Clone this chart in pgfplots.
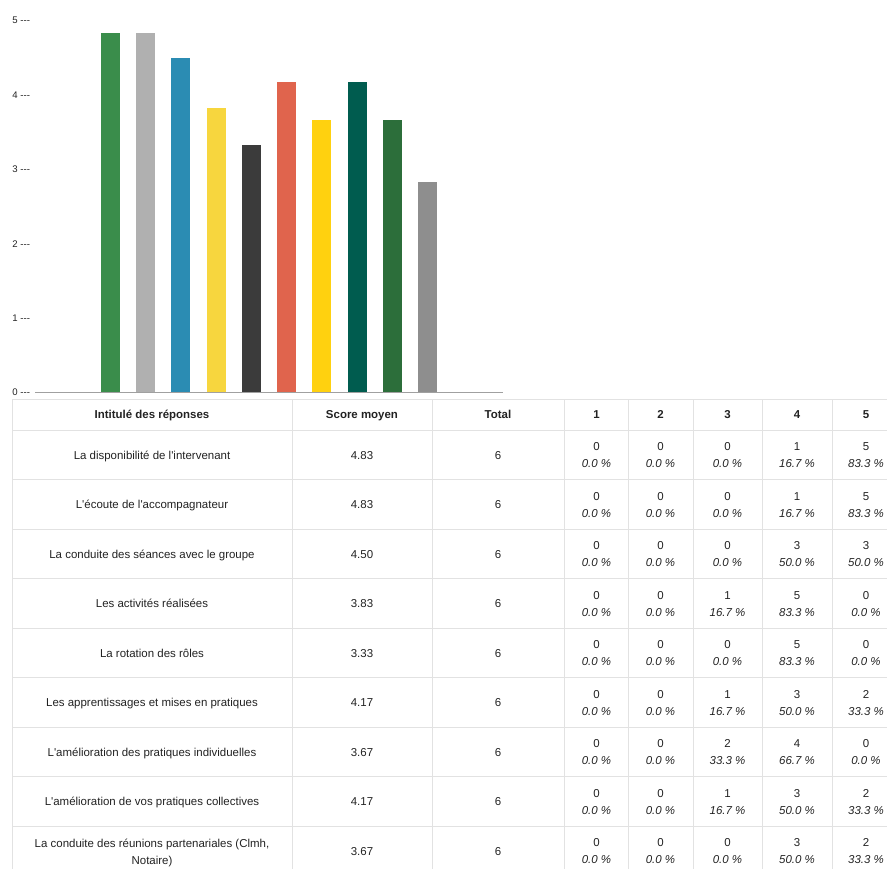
\documentclass[border=0pt]{standalone}
\usepackage{fontspec}
\usepackage{pgfplots}
\pgfplotsset{compat=1.18}
\newfontfamily\af{Liberation Sans}
\definecolor{c1}{HTML}{3A8D4B}
\definecolor{c2}{HTML}{B0B0B0}
\definecolor{c3}{HTML}{2B8CB3}
\definecolor{c4}{HTML}{F7D63E}
\definecolor{c5}{HTML}{3B3B3B}
\definecolor{c6}{HTML}{E0644D}
\definecolor{c7}{HTML}{FFD10F}
\definecolor{c8}{HTML}{005C4F}
\definecolor{c9}{HTML}{2C6E3A}
\definecolor{c10}{HTML}{8E8E8E}
\definecolor{axisgray}{HTML}{A0A0A0}
\definecolor{gridc}{HTML}{E2E2E2}
\definecolor{txt}{HTML}{222222}
\begin{document}
\begin{tikzpicture}
\useasboundingbox (0,0) rectangle (665.25pt,-651pt);
\begin{axis}[
  at={(26.25pt,-294.225pt)}, anchor=south west,
  scale only axis, width=351pt, height=278.7pt,
  xmin=-1.144, xmax=12.144, ymin=0, ymax=5,
  axis x line=bottom, axis y line=left,
  x axis line style={-, draw=axisgray, line width=1pt},
  y axis line style={draw=none},
  xtick=\empty, ytick={0,1,2,3,4,5},
  yticklabels={0 ---,1 ---,2 ---,3 ---,4 ---,5 ---},
  major tick length=0pt,
  yticklabel style={font=\af\fontsize{7.2}{8}\selectfont, text=txt, anchor=east, inner sep=0pt, xshift=-3.5pt},
  mybar/.style={ybar, bar width=14.25pt, bar shift=0pt, draw=none, fill=#1},
  clip=false,
]
\addplot[mybar=c1] coordinates {(1,4.83)};
\addplot[mybar=c2] coordinates {(2,4.83)};
\addplot[mybar=c3] coordinates {(3,4.50)};
\addplot[mybar=c4] coordinates {(4,3.83)};
\addplot[mybar=c5] coordinates {(5,3.33)};
\addplot[mybar=c6] coordinates {(6,4.17)};
\addplot[mybar=c7] coordinates {(7,3.67)};
\addplot[mybar=c8] coordinates {(8,4.17)};
\addplot[mybar=c9] coordinates {(9,3.67)};
\addplot[mybar=c10] coordinates {(10,2.83)};
\end{axis}
\begin{scope}[x=0.75pt, y=-0.75pt, every node/.style={font=\af\fontsize{8.6}{12.75}\selectfont, text=txt, inner sep=0pt}]
  \draw[gridc, line width=0.75pt] (12,399.5) -- (900,399.5);
  \foreach \yy in {430.5,479.5,529.5,578.5,628.5,677.5,727.5,776.5,826.5,875.5}
    \draw[gridc, line width=0.75pt] (12,\yy) -- (900,\yy);
  \foreach \xx in {12.5,292.5,432.5,564.5,628.5,693.5,762.5,832.5}
    \draw[gridc, line width=0.75pt] (\xx,399) -- (\xx,880);
  \begin{scope}[every node/.append style={anchor=base, font=\af\bfseries\fontsize{8.6}{10}\selectfont}]
  \node at (152,418.5) {Intitulé des réponses};
  \node at (362,418.5) {Score moyen};
  \node at (498,418.5) {Total};
  \node at (596.5,418.5) {1};
  \node at (660.5,418.5) {2};
  \node at (727.5,418.5) {3};
  \node at (797,418.5) {4};
  \node at (866,418.5) {5};
  \end{scope}
  \foreach \lab/\sc/\tot/\cnt/\pct [count=\i from 0] in {
    {La disponibilité de l'intervenant}/4.83/6/{0,0,0,1,5}/{0.0,0.0,0.0,16.7,83.3},
    {L'écoute de l'accompagnateur}/4.83/6/{0,0,0,1,5}/{0.0,0.0,0.0,16.7,83.3},
    {La conduite des séances avec le groupe}/4.50/6/{0,0,0,3,3}/{0.0,0.0,0.0,50.0,50.0},
    {Les activités réalisées}/3.83/6/{0,0,1,5,0}/{0.0,0.0,16.7,83.3,0.0},
    {La rotation des rôles}/3.33/6/{0,0,0,5,0}/{0.0,0.0,0.0,83.3,0.0},
    {Les apprentissages et mises en pratiques}/4.17/6/{0,0,1,3,2}/{0.0,0.0,16.7,50.0,33.3},
    {L'amélioration des pratiques individuelles}/3.67/6/{0,0,2,4,0}/{0.0,0.0,33.3,66.7,0.0},
    {L'amélioration de vos pratiques collectives}/4.17/6/{0,0,1,3,2}/{0.0,0.0,16.7,50.0,33.3},
    {}/3.67/6/{0,0,0,3,2}/{0.0,0.0,0.0,50.0,33.3}}{
    \pgfmathsetmacro\yc{455+49.5*\i}
    \node[anchor=base] at (152,\yc+4) {\lab};
    \node[anchor=base] at (362,\yc+4) {\sc};
    \node[anchor=base] at (498,\yc+4) {\tot};
    \foreach \v [count=\j from 0] in \cnt {
      \pgfmathsetmacro\xc{{596.5,660.5,727.5,797,866}[\j]}
      \node[anchor=base] at (\xc,\yc-4.5) {\v};
    }
    \foreach \v [count=\j from 0] in \pct {
      \pgfmathsetmacro\xc{{596.5,660.5,727.5,797,866}[\j]}
      \node[anchor=base, font=\af\itshape\fontsize{8.6}{10}\selectfont] at (\xc,\yc+12.5) {\v\ \%};
    }
  }
  \node[anchor=base] at (152,847) {La conduite des réunions partenariales (Clmh,};
  \node[anchor=base] at (152,864) {Notaire)};
\end{scope}
\end{tikzpicture}
\end{document}
